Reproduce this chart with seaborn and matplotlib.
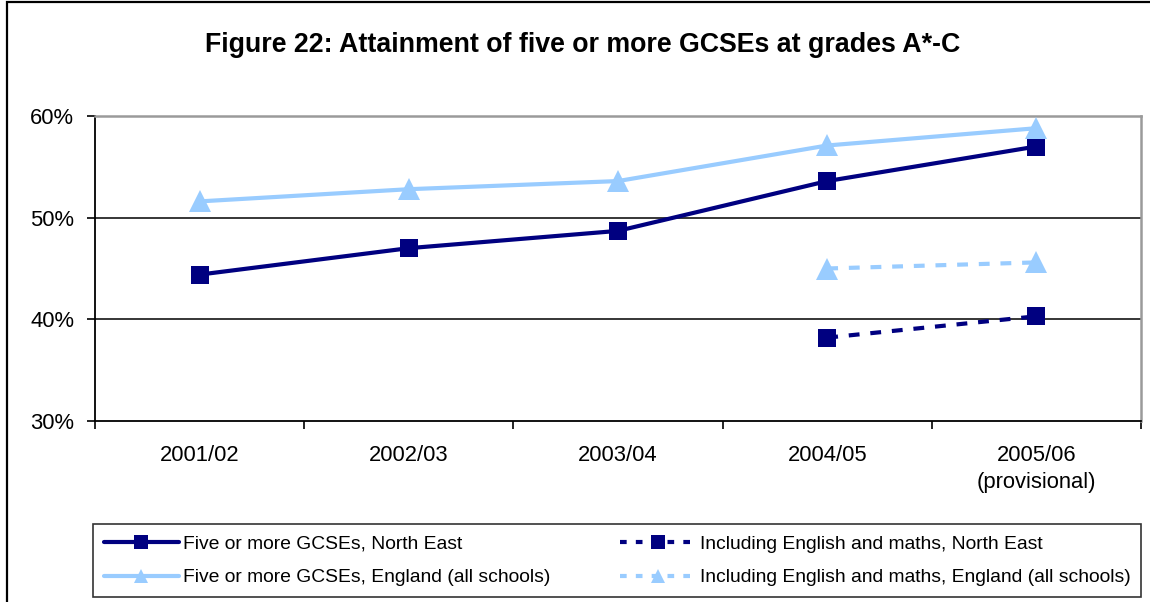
import matplotlib
matplotlib.use("Agg")
import matplotlib.pyplot as plt
import seaborn as sns
import pandas as pd
from matplotlib.patches import Rectangle
from matplotlib.lines import Line2D

sns.set_theme(style="white")
plt.rcParams["font.family"] = ["Liberation Sans", "DejaVu Sans"]
plt.rcParams["text.color"] = "black"
plt.rcParams["xtick.color"] = "black"
plt.rcParams["ytick.color"] = "black"

# Academic years
years = ["2001/02", "2002/03", "2003/04", "2004/05", "2005/06\n(provisional)"]

# Percentage of pupils achieving five or more GCSEs at A*-C
five_ne = [44.4, 47.0, 48.7, 53.6, 57.0]
five_eng = [51.6, 52.8, 53.6, 57.1, 58.8]
# Including English and maths (only available from 2004/05)
incl_ne = [None, None, None, 38.2, 40.3]
incl_eng = [None, None, None, 45.0, 45.6]

series_names = [
    "Five or more GCSEs, North East",
    "Five or more GCSEs, England (all schools)",
    "Including English and maths, North East",
    "Including English and maths, England (all schools)",
]
series_values = [five_ne, five_eng, incl_ne, incl_eng]

navy = "#000080"
light = "#99CCFF"
colors = [navy, light, navy, light]
markers = ["s", "^", "s", "^"]
msizes = [13, 16, 13, 16]
dashed = [False, False, True, True]

fig = plt.figure(figsize=(11.5, 6.02), dpi=100)
ax = fig.add_axes([95 / 1150, 1 - 421 / 602, (1141 - 95) / 1150, (421 - 116) / 602])

for name, vals, c, m, ms, d in zip(series_names, series_values, colors, markers, msizes, dashed):
    sub = pd.DataFrame({"pos": [i for i, v in enumerate(vals) if v is not None],
                        "value": [v for v in vals if v is not None]})
    line_kw = dict(dashes=(2.6, 2.6)) if d else {}
    sns.lineplot(data=sub, x="pos", y="value", color=c, marker=m, markersize=ms,
                 markeredgewidth=0, linewidth=3, ax=ax, legend=False, zorder=3, **line_kw)

ax.set_xlim(-0.5, len(years) - 0.5)
ax.set_ylim(30, 60)
ax.set_yticks([30, 40, 50, 60])
ax.set_yticklabels([f"{t}%" for t in [30, 40, 50, 60]], fontsize=15.8)
ax.set_xticks(range(len(years)))
ax.set_xticklabels(years, fontsize=15.8, linespacing=1.4)
ax.tick_params(axis="x", length=0, pad=17)
ax.tick_params(axis="y", length=6, width=1.2, color="black", direction="out", left=True, pad=9)
ax.set_xticks([k - 0.5 for k in range(len(years) + 1)], minor=True)
ax.tick_params(axis="x", which="minor", length=5.5, width=1.2, color="black", direction="out", bottom=True)
ax.set_xlabel("")
ax.set_ylabel("")

for y in [40, 50]:
    ax.axhline(y, color="black", linewidth=1.1, zorder=1)

for side in ["left", "bottom"]:
    ax.spines[side].set_color("black")
    ax.spines[side].set_linewidth(1.3)
for side in ["top", "right"]:
    ax.spines[side].set_color("#9a9a9a")
    ax.spines[side].set_linewidth(1.8)

fig.text(583 / 1150, 1 - 45 / 602, "Figure 22: Attainment of five or more GCSEs at grades A*-C",
         ha="center", va="center", fontsize=19.3, fontweight="bold", color="black")

# Legend built from the same styles used for the lines
handles = []
for c, m, d in zip(colors, markers, dashed):
    handles.append(Line2D([], [], color=c, marker=m, markersize=9.5, markeredgewidth=0,
                          linewidth=3, linestyle=(0, (1.6, 2.2)) if d else "-"))
leg = fig.legend(handles, series_names, ncol=2, loc="upper left",
                 bbox_to_anchor=(93 / 1150, 1 - 525 / 602, (1141 - 93) / 1150, 0.001),
                 mode="expand", frameon=True, fancybox=False, fontsize=13.9,
                 handlelength=3.9, handletextpad=0.2, borderaxespad=0,
                 labelspacing=0.85, borderpad=0.55, columnspacing=3)
leg.get_frame().set_edgecolor("black")
leg.get_frame().set_linewidth(1.2)
for t in leg.get_texts():
    t.set_color("black")

# Outer chart frame
fig.patches.append(Rectangle((7 / 1150, -0.05), 1.1, 1 - 2 / 602 + 0.05,
                             transform=fig.transFigure, fill=False,
                             edgecolor="black", linewidth=1.6))

fig.savefig("out.png", dpi=100)
